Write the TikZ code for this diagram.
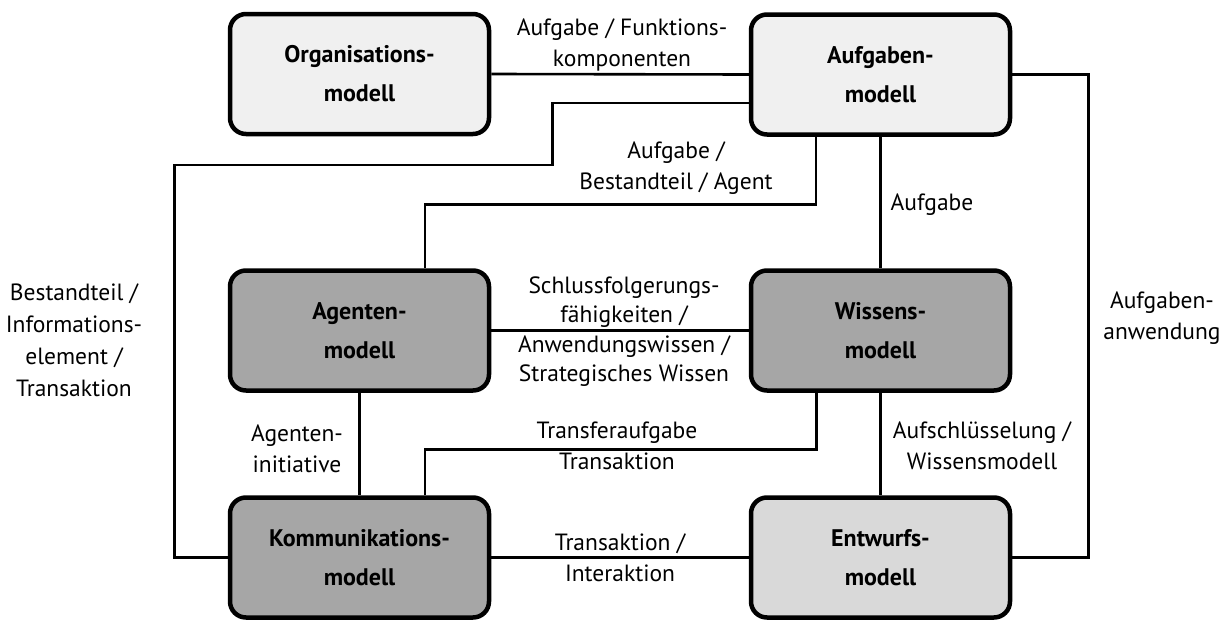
\documentclass[tikz,border=0pt]{standalone}
\usepackage{fontspec}
\setmainfont{PT Sans}
\definecolor{boxlight}{HTML}{F0F0F0}
\definecolor{boxmid}{HTML}{D9D9D9}
\definecolor{boxdark}{HTML}{A6A6A6}
\begin{document}
\begin{tikzpicture}[x=1pt,y=-1pt,
  model/.style={draw, line width=4.5pt, rounded corners=16pt,
    minimum width=259pt, minimum height=120pt, inner sep=0pt,
    align=center, font=\fontsize{24}{39}\selectfont\bfseries},
  lightbox/.style={model, fill=boxlight},
  midbox/.style={model, fill=boxmid},
  darkbox/.style={model, fill=boxdark},
  link/.style={line width=2.6pt},
  lbl/.style={align=center, inner sep=0pt, font=\fontsize{23.5}{31}\selectfont}]
\useasboundingbox (0,0) rectangle (1232,621);

% model boxes
\node[lightbox] (org)  at (359.5,74)   {Organisations-\\modell};
\node[lightbox] (auf)  at (880.5,74.5) {Aufgaben-\\modell};
\node[darkbox]  (agt)  at (359.5,330.5) {Agenten-\\modell};
\node[darkbox]  (wis)  at (880.5,330.5) {Wissens-\\modell};
\node[darkbox]  (kom)  at (359.5,557.5) {Kommunikations-\\modell};
\node[midbox]   (ent)  at (880.5,557.5) {Entwurfs-\\modell};

% connectors
\draw[link] (org.east) -- (auf.west);
\draw[link] ([yshift=-28.5pt]auf.west) -- ++(-196,0) -- ++(0,62) -- ++(-378,0) |- (kom.west);
\draw[link] ([xshift=-64.5pt]auf.south) -- ++(0,67.5) -| ([xshift=65.5pt]agt.north);
\draw[link] (auf.south) -- (wis.north);
\draw[link] (auf.east) -- ++(76,0) |- (ent.east);
\draw[link] (agt.east) -- (wis.west);
\draw[link] (agt.south) -- (kom.north);
\draw[link] ([xshift=-64pt]wis.south) -- ++(0,56.5) -| ([xshift=65.5pt]kom.north);
\draw[link] (wis.south) -- (ent.north);
\draw[link] (kom.east) -- (ent.west);

% connector labels
\node[lbl] (t1)  at (622,45)    {Aufgabe / Funktions-\\komponenten};
\node[lbl, font=\fontsize{23.5}{32}\selectfont] (t2) at (74,340)
  {Bestandteil /\\Informations-\\element /\\Transaktion};
\node[lbl] (t3)  at (676,168)   {Aufgabe /\\Bestandteil / Agent};
\node[lbl] (t4)  at (932,205)   {Aufgabe};
\node[lbl] (t5)  at (1162,318)  {Aufgaben-\\anwendung};
\node[lbl, font=\fontsize{23.5}{29.5}\selectfont] (t6) at (624,331.5)
  {Schlussfolgerungs-\\fähigkeiten /\\Anwendungswissen /\\Strategisches Wissen};
\node[lbl] (t7)  at (297,449)   {Agenten-\\initiative};
\node[lbl] (t8)  at (617,446)   {Transferaufgabe\\Transaktion};
\node[lbl] (t9)  at (982,446)   {Aufschlüsselung /\\Wissensmodell};
\node[lbl] (t10) at (620,558)   {Transaktion /\\Interaktion};
\end{tikzpicture}
\end{document}
